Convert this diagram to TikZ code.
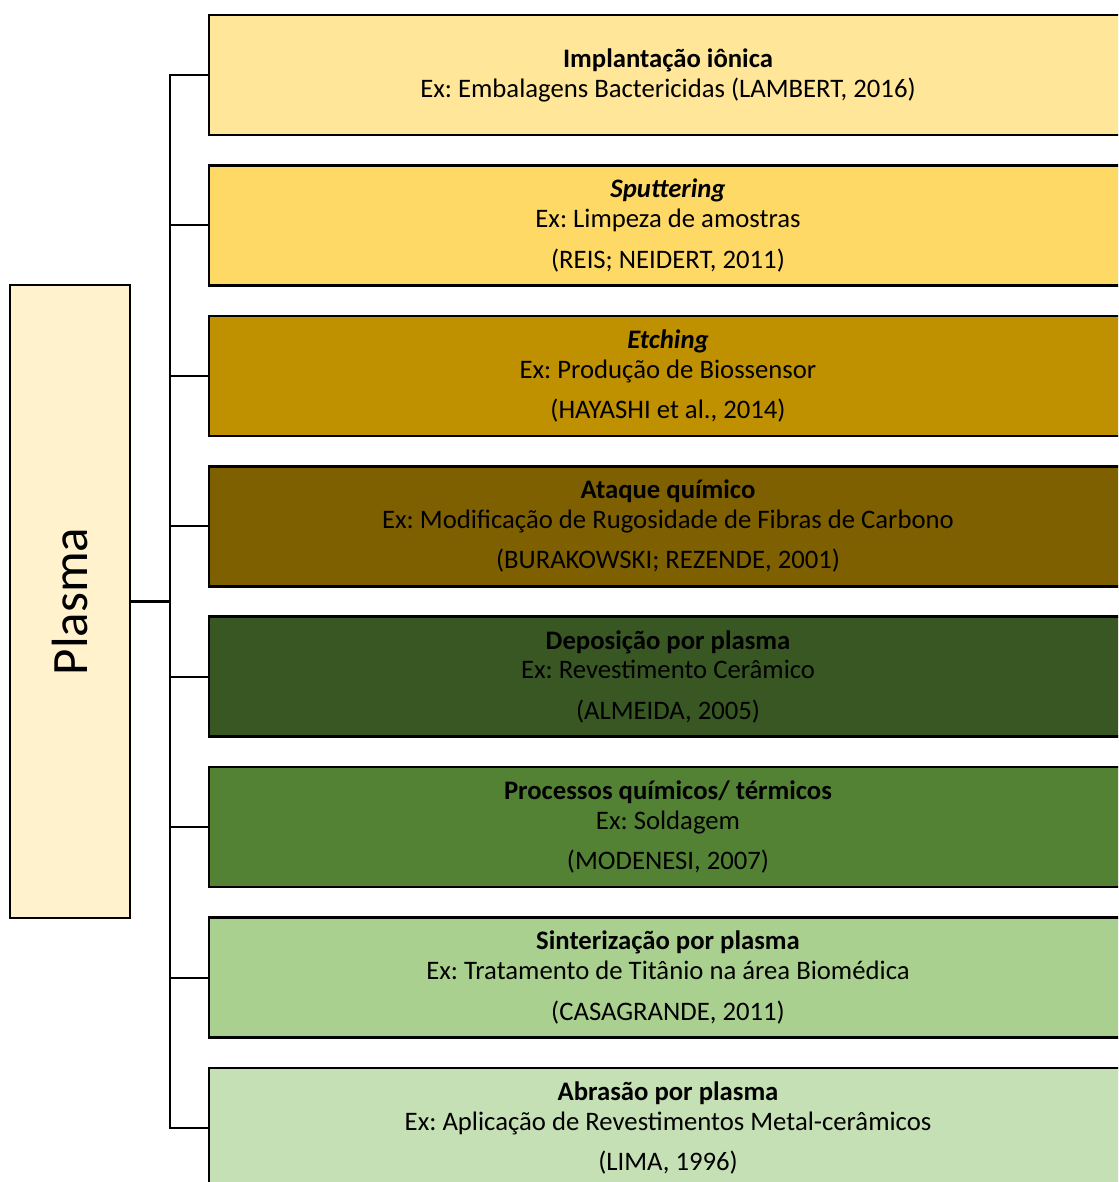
\documentclass[tikz,border=0pt]{standalone}
\usepackage{fontspec}
\setmainfont{Carlito}
\usetikzlibrary{positioning}
\frenchspacing

\definecolor{plasmafill}{HTML}{FFF2CC}
\definecolor{boxA}{HTML}{FFE699}
\definecolor{boxB}{HTML}{FFD966}
\definecolor{boxC}{HTML}{BF9000}
\definecolor{boxD}{HTML}{7F6000}
\definecolor{boxE}{HTML}{385723}
\definecolor{boxF}{HTML}{548235}
\definecolor{boxG}{HTML}{A9D08E}
\definecolor{boxH}{HTML}{C5E0B4}

\tikzset{
  procbox/.style={draw=black, line width=1.4pt, minimum width=18.36cm,
    minimum height=2.4cm, inner sep=0pt, align=center,
    font=\fontsize{15.2}{17}\selectfont},
  plasmabox/.style={draw=black, line width=1.4pt, fill=plasmafill,
    minimum width=2.4cm, minimum height=12.66cm, inner sep=0pt,
    font=\fontsize{29}{32}\selectfont},
  link/.style={line width=1.2pt}
}

\begin{document}
\begin{tikzpicture}[x=0.02cm,y=-0.02cm]
\clip (0,0) rectangle (1118,1182);

\node[plasmabox] (plasma) at (70,601.5) {\rotatebox{90}{Plasma}};

\node[procbox, fill=boxA] (b1) at (668,75)
  {\textbf{Implantação iônica}\\ Ex: Embalagens Bactericidas (LAMBERT, 2016)};
\node[procbox, fill=boxB] (b2) at (668,225.4)
  {\textbf{\textit{Sputtering}}\\ Ex: Limpeza de amostras\\[6pt] (REIS; NEIDERT, 2011)};
\node[procbox, fill=boxC] (b3) at (668,375.9)
  {\textbf{\textit{Etching}}\\ Ex: Produção de Biossensor\\[6pt] (HAYASHI et al., 2014)};
\node[procbox, fill=boxD] (b4) at (668,526.3)
  {\textbf{Ataque químico}\\ Ex: Modificação de Rugosidade de Fibras de Carbono\\[6pt] (BURAKOWSKI; REZENDE, 2001)};
\node[procbox, fill=boxE] (b5) at (668,676.7)
  {\textbf{Deposição por plasma}\\ Ex: Revestimento Cerâmico\\[6pt] (ALMEIDA, 2005)};
\node[procbox, fill=boxF] (b6) at (668,827.2)
  {\textbf{Processos químicos/ térmicos}\\ Ex: Soldagem\\[6pt] (MODENESI, 2007)};
\node[procbox, fill=boxG] (b7) at (668,977.6)
  {\textbf{Sinterização por plasma}\\ Ex: Tratamento de Titânio na área Biomédica\\[6pt] (CASAGRANDE, 2011)};
\node[procbox, fill=boxH] (b8) at (668,1128)
  {\textbf{Abrasão por plasma}\\ Ex: Aplicação de Revestimentos Metal-cerâmicos\\[6pt] (LIMA, 1996)};

% tree connectors
\coordinate (bus) at (170,601.5);
\draw[link] (plasma.east) -- (bus);
\draw[link] (b1.west) -| (bus) |- (b8.west);
\foreach \i in {2,...,7}
  \draw[link] (bus |- b\i.west) -- (b\i.west);
\end{tikzpicture}
\end{document}
